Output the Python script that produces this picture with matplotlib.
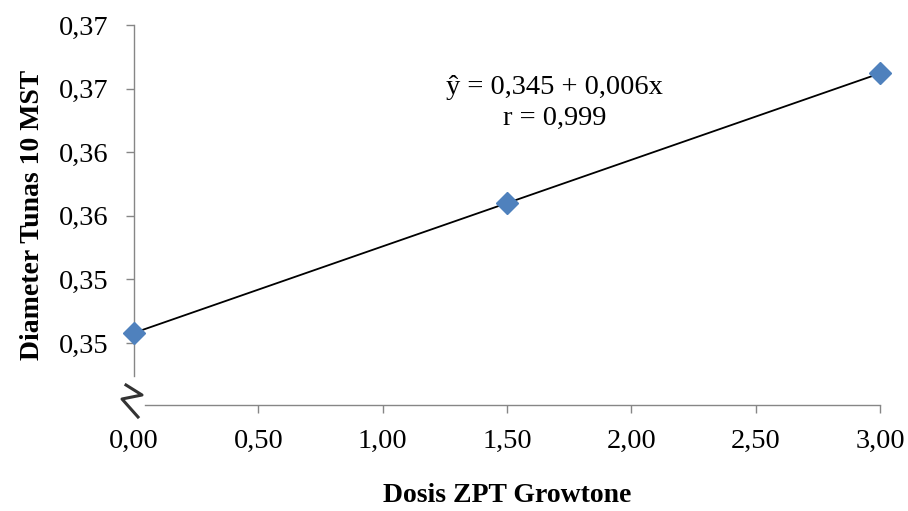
import matplotlib
matplotlib.use("Agg")
import matplotlib.pyplot as plt
from matplotlib.lines import Line2D
import numpy as np

plt.rcParams['font.family'] = ['Liberation Serif', 'DejaVu Serif']

# data
dosis = [0.0, 1.5, 3.0]
diameter = [0.3508, 0.3610, 0.3712]

x_ticks = [0.0, 0.5, 1.0, 1.5, 2.0, 2.5, 3.0]
x_labels = ["0,00", "0,50", "1,00", "1,50", "2,00", "2,50", "3,00"]
y_ticks = [0.350, 0.355, 0.360, 0.365, 0.370, 0.375]
y_labels = ["0,35", "0,35", "0,36", "0,36", "0,37", "0,37"]

equation = "ŷ = 0,345 + 0,006x\nr = 0,999"

W, H = 908, 511
fig = plt.figure(figsize=(W / 100, H / 100), dpi=100)
ax = fig.add_axes([134 / W, 1 - 405 / H, (880 - 134) / W, (405 - 25) / H])

gray = "#868686"

# trendline from the data
slope, intercept = np.polyfit(dosis, diameter, 1)
xs = np.array([min(dosis), max(dosis)])
ax.plot(xs, intercept + slope * xs, color="black", linewidth=1.3, zorder=2)
ax.plot(dosis, diameter, linestyle="none", marker="D", markersize=11,
        color="#4F81BD", markeredgecolor="#4F81BD", zorder=3, clip_on=False)

ax.set_xlim(0, 3)
ax.set_ylim(0.34513, 0.375)

ax.set_xticks(x_ticks)
ax.set_xticklabels(x_labels, fontsize=20.5)
ax.set_yticks(y_ticks)
ax.set_yticklabels(y_labels, fontsize=20.5)
ax.tick_params(axis="both", direction="out", length=6, width=1, color=gray)
ax.tick_params(axis="y", pad=12)
ax.tick_params(axis="x", pad=11)
ax.xaxis.get_major_ticks()[0].tick1line.set_visible(False)

for s in ["top", "right"]:
    ax.spines[s].set_visible(False)
for s in ["left", "bottom"]:
    ax.spines[s].set_color(gray)
    ax.spines[s].set_linewidth(1)
ax.spines["left"].set_bounds(0.3474, 0.375)
ax.spines["bottom"].set_bounds(0.044, 3.0)

ax.set_xlabel("Dosis ZPT Growtone", fontsize=20, fontweight="bold", labelpad=21)
ax.set_ylabel("Diameter Tunas 10 MST", fontsize=20, fontweight="bold", labelpad=10)

ax.text(1.69, 0.3689, equation, fontsize=20.5, ha="center", va="center",
        linespacing=1.3)

# axis break mark
def px(x, y):
    return x / W, 1 - y / H

brk = [px(126, 385), px(142, 395), px(122, 399), px(138, 417)]
fig.add_artist(Line2D([p[0] for p in brk], [p[1] for p in brk], color="#333333",
                      linewidth=2.2, transform=fig.transFigure))

fig.savefig("out.png", dpi=100)
